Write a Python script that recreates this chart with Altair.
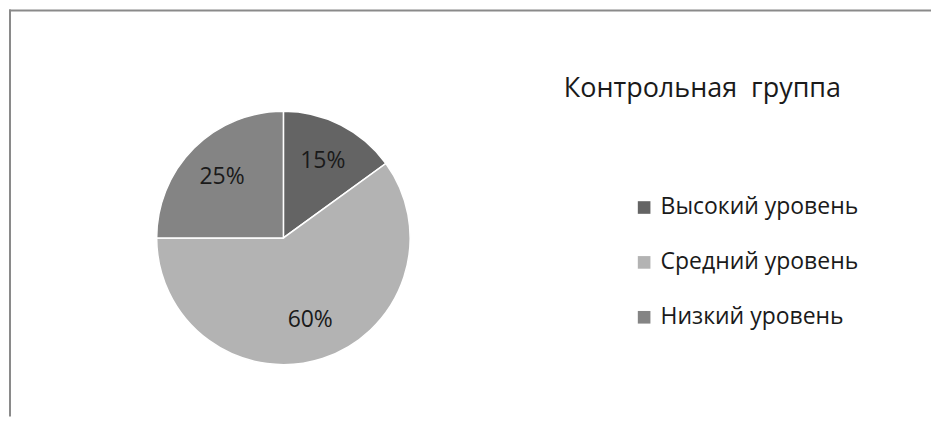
import altair as alt
import pandas as pd

# Data
categories = ["Высокий уровень", "Средний уровень", "Низкий уровень"]
values = [15, 60, 25]
labels = ["15%", "60%", "25%"]
colors = ["#646464", "#b3b3b3", "#848484"]
title_text = "Контрольная\u00a0 группа"

df = pd.DataFrame({
    "cat": categories,
    "val": values,
    "lab": labels,
    "ord": list(range(len(categories))),
})

FONT = "Open Sans"
W, H = 924, 409
CX, CY, R = 275, 230, 127

color_scale = alt.Scale(domain=categories, range=colors)

base = alt.Chart(df).encode(
    theta=alt.Theta("val:Q", stack=True),
    order=alt.Order("ord:Q"),
)

pie = base.mark_arc(
    radius=R, stroke="white", strokeWidth=1.5
).encode(
    x=alt.value(CX), y=alt.value(CY),
    color=alt.Color(
        "cat:N", scale=color_scale, sort=categories,
        legend=alt.Legend(
            title=None, orient="none", legendX=625, legendY=188,
            symbolType="square", symbolSize=160, symbolStrokeWidth=0,
            labelFont=FONT, labelFontSize=23, labelColor="#1a1a1a",
            labelOffset=5, rowPadding=31, labelLimit=400,
        ),
    ),
)

text = base.mark_text(
    radius=87, font=FONT, fontSize=23, color="#1a1a1a"
).encode(
    x=alt.value(CX), y=alt.value(CY),
    text="lab:N",
)

title = alt.Chart(pd.DataFrame({"t": [title_text]})).mark_text(
    font=FONT, fontSize=27, color="#1a1a1a", align="left", baseline="alphabetic"
).encode(x=alt.value(556), y=alt.value(89), text="t:N")

frame_df = pd.DataFrame({"k": [0]})
top_line = alt.Chart(frame_df).mark_rule(color="#8a8a8a", strokeWidth=2).encode(
    x=alt.value(0), x2=alt.value(W), y=alt.value(2)
)
left_line = alt.Chart(frame_df).mark_rule(color="#8a8a8a", strokeWidth=2).encode(
    x=alt.value(1), y=alt.value(1), y2=alt.value(H)
)

chart = alt.layer(pie, text, title, top_line, left_line).properties(
    width=W, height=H, padding=0
).configure_view(strokeWidth=0)

chart.save("out.html", embed_options={"renderer": "svg", "actions": False})
